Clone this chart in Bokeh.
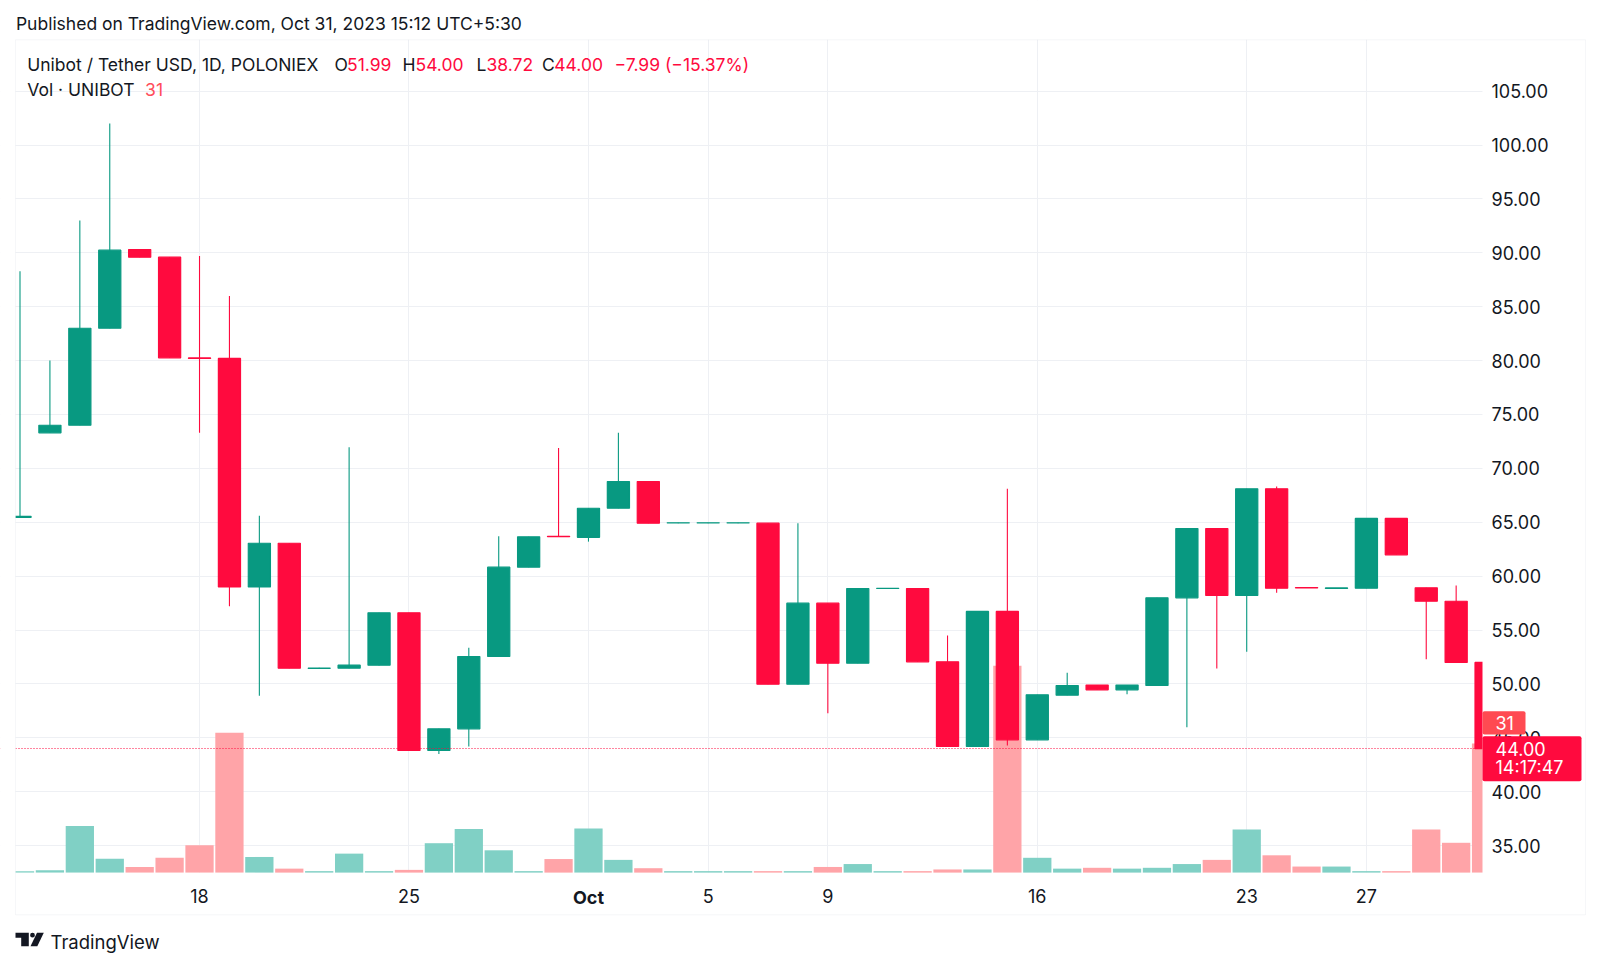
from bokeh.plotting import figure
from bokeh.models import (Range1d, FixedTicker, PrintfTickFormatter, Label,
                          BoxAnnotation, PolyAnnotation, ColumnDataSource)
from bokeh.embed import file_html
from bokeh.resources import INLINE

# ---------------- data (Unibot / USDT, 1D, Poloniex) ----------------
dates = ["Sep 12", "Sep 13", "Sep 14", "Sep 15", "Sep 16", "Sep 17", "Sep 18", "Sep 19",
         "Sep 20", "Sep 21", "Sep 22", "Sep 23", "Sep 24", "Sep 25", "Sep 26", "Sep 27",
         "Sep 28", "Sep 29", "Sep 30", "Oct 1", "Oct 2", "Oct 3", "Oct 4", "Oct 5",
         "Oct 6", "Oct 7", "Oct 8", "Oct 9", "Oct 10", "Oct 11", "Oct 12", "Oct 13",
         "Oct 14", "Oct 15", "Oct 16", "Oct 17", "Oct 18", "Oct 19", "Oct 20", "Oct 21",
         "Oct 22", "Oct 23", "Oct 24", "Oct 25", "Oct 26", "Oct 27", "Oct 28", "Oct 29",
         "Oct 30", "Oct 31"]
opens = [65.45, 73.30, 74.00, 83.00, 90.30, 89.60, 80.25, 80.20,
         59.00, 63.05, 51.44, 51.46, 51.74, 56.60, 43.82, 45.83,
         52.54, 60.83, 63.70, 63.60, 66.30, 68.78, 64.93, 64.93,
         64.93, 64.91, 49.97, 57.49, 51.92, 58.85, 58.85, 52.05,
         44.19, 56.72, 44.81, 48.95, 49.89, 49.45, 49.85, 57.99,
         64.42, 58.20, 68.10, 58.94, 58.86, 58.88, 65.35, 58.92,
         57.67, 51.99]
highs = [88.30, 80.00, 93.00, 102.00, 90.30, 89.60, 89.70, 86.00,
         65.60, 63.05, 51.50, 71.95, 56.60, 56.60, 45.83, 53.35,
         63.70, 63.65, 71.90, 66.30, 73.30, 68.78, 64.95, 64.95,
         64.95, 64.91, 64.91, 57.49, 58.85, 58.87, 58.85, 54.49,
         56.72, 68.10, 48.98, 51.03, 49.89, 49.89, 57.99, 64.42,
         64.42, 68.10, 68.32, 58.94, 58.90, 65.35, 65.35, 58.92,
         59.13, 54.00]
lows = [65.45, 73.30, 74.00, 83.00, 89.60, 80.26, 73.30, 57.20,
        48.90, 51.45, 51.40, 51.46, 51.70, 43.82, 43.50, 44.20,
        52.54, 60.83, 63.65, 63.20, 66.30, 64.91, 64.90, 64.90,
        64.90, 49.97, 49.97, 47.28, 51.92, 58.83, 52.05, 44.19,
        44.19, 44.28, 44.81, 48.95, 49.45, 49.04, 49.85, 45.98,
        51.43, 52.98, 58.45, 58.90, 58.86, 58.88, 61.98, 52.29,
        51.99, 38.72]
closes = [65.55, 74.00, 83.00, 90.25, 89.60, 80.26, 80.20, 59.00,
          63.05, 51.45, 51.46, 51.74, 56.60, 43.82, 45.83, 52.54,
          60.83, 63.65, 63.66, 66.30, 68.78, 64.91, 64.95, 64.95,
          64.95, 49.97, 57.49, 51.92, 58.85, 58.87, 52.05, 44.19,
          56.72, 44.81, 48.98, 49.85, 49.45, 49.89, 57.99, 64.42,
          58.20, 68.10, 58.88, 58.90, 58.90, 65.35, 61.98, 57.67,
          51.99, 44.00]
volumes = [0.4, 0.6, 11.2, 3.4, 1.4, 3.6, 6.6, 33.6,
           3.8, 1.0, 0.4, 4.6, 0.4, 0.7, 7.1, 10.5,
           5.4, 0.4, 3.3, 10.6, 3.1, 1.1, 0.4, 0.4,
           0.4, 0.4, 0.4, 1.4, 2.1, 0.4, 0.4, 0.8,
           0.8, 49.7, 3.6, 1.0, 1.2, 1.0, 1.2, 2.1,
           3.1, 10.4, 4.2, 1.5, 1.5, 0.4, 0.4, 10.4,
           7.2, 31.0]

price_ticks = [35, 40, 45, 50, 55, 60, 65, 70, 75, 80, 85, 90, 95, 100, 105]
date_ticks = [6, 13, 19, 23, 27, 34, 41, 45]
date_tick_labels = ["18", "25", "Oct", "5", "9", "16", "23", "27"]
last_price = 44.00
last_volume = 31
countdown = "14:17:47"

# ---------------- styles ----------------
GREEN = "#089981"
RED = "#ff0a3e"
VOL_GREEN = "#80d0c5"
VOL_RED = "#ffa4a8"
TAG_VOL = "#ff4a52"
TEXT = "#131722"
GRID = "#eef0f4"
BORDER = "#e0e3eb"
FONT = "Inter"
FS = "17.5px"
AXFS = "18px"

# ---------------- geometry (page pixels) ----------------
W, H = 1592, 958
DX = 29.92          # px per day
DAY0_PX = 19.5      # page x of first candle
DY = 10.776         # px per price unit
P105_PX = 90.7      # page y of price 105
VOL_PX = 4.168      # px per volume unit
PANE_L, PANE_R, PANE_T, PANE_B = 15, 1482, 39.3, 872.3
BOX_R, BOX_B = 1585, 914.3


def px_x(px):
    return (px - DAY0_PX) / DX


def px_y(py):
    return 105 - (py - P105_PX) / DY


idx = list(range(len(dates)))
up = [c >= o for o, c in zip(opens, closes)]
src = ColumnDataSource(dict(
    x=idx, date=dates, o=opens, h=highs, l=lows, c=closes,
    top=[max(o, c) for o, c in zip(opens, closes)],
    bottom=[min(o, c) for o, c in zip(opens, closes)],
    color=[GREEN if u else RED for u in up],
    vol=volumes,
    vcolor=[VOL_GREEN if u else VOL_RED for u in up],
))

p = figure(width=W, height=H,
           x_range=Range1d(px_x(0), px_x(W)), y_range=Range1d(px_y(H), px_y(0)),
           y_axis_location="right", output_backend="svg", toolbar_location=None,
           min_border=0, min_border_left=0, min_border_right=0,
           min_border_top=0, min_border_bottom=0,
           background_fill_color="white", border_fill_color="white",
           outline_line_color=None)
p.title.visible = False
p.extra_y_ranges = {"vol": Range1d(-(H - PANE_B) / VOL_PX, PANE_B / VOL_PX)}

# grid (restricted to the chart pane)
p.xgrid.ticker = FixedTicker(ticks=date_ticks)
p.ygrid.ticker = FixedTicker(ticks=price_ticks)
p.xgrid.bounds = (px_y(PANE_B), px_y(PANE_T))
p.ygrid.bounds = (px_x(PANE_L), px_x(PANE_R))
for g in (p.xgrid, p.ygrid):
    g.grid_line_color = GRID
    g.grid_line_width = 1

# axes, pinned to the pane edges
yax = p.yaxis[0]
yax.ticker = FixedTicker(ticks=price_ticks)
yax.formatter = PrintfTickFormatter(format="%.2f")
yax.fixed_location = px_x(PANE_R)
yax.major_label_standoff = 9
xax = p.xaxis[0]
xax.ticker = FixedTicker(ticks=date_ticks)
xax.major_label_overrides = {t: (lab if lab != "Oct" else "")
                             for t, lab in zip(date_ticks, date_tick_labels)}
xax.fixed_location = px_y(PANE_B)
xax.major_label_standoff = 16
for ax in (xax, yax):
    ax.axis_line_color = None
    ax.major_tick_line_color = None
    ax.minor_tick_line_color = None
    ax.major_tick_out = 0
    ax.major_tick_in = 0
    ax.major_label_text_font = FONT
    ax.major_label_text_font_size = AXFS
    ax.major_label_text_color = TEXT

# volume
p.vbar(x="x", top="vol", bottom=0, width=0.945, fill_color="vcolor", line_color=None,
       y_range_name="vol", source=src)
# wicks and bodies
p.segment(x0="x", y0="h", x1="x", y1="l", line_color="color", line_width=1.1, source=src)
p.vbar(x="x", top="top", bottom="bottom", width=0.74, fill_color="color",
       line_color="color", line_width=1.2, source=src)
# last price line
p.hspan(y=[last_price], line_color=RED, line_dash="1 2", line_width=1)

# white masks outside the pane (clip candles / grid / price line to the pane)
mx0, mx1 = px_x(-5), px_x(W + 5)
my0, my1 = px_y(H + 5), px_y(-5)
p.quad(left=[mx0, px_x(PANE_R), mx0, mx0],
       right=[px_x(PANE_L), mx1, mx1, mx1],
       bottom=[my0, my0, my0, px_y(PANE_T)],
       top=[my1, my1, px_y(PANE_B), my1],
       fill_color="white", line_color=None)

# outer border of the chart box
p.add_layout(BoxAnnotation(left=px_x(PANE_L), right=px_x(BOX_R), top=px_y(PANE_T),
                           bottom=px_y(BOX_B), fill_color=None, fill_alpha=0,
                           line_color=BORDER, line_width=1))


def lab(px, py, text, color=TEXT, size=FS, style="normal", align="left"):
    p.add_layout(Label(x=px_x(px), y=px_y(py), text=text, text_align=align,
                       text_baseline="middle", text_font=FONT, text_font_size=size,
                       text_font_style=style, text_color=color))


# bold month label on the time axis
oct_i = date_tick_labels.index("Oct")
p.add_layout(Label(x=date_ticks[oct_i], y=px_y(896.5), text="Oct", text_align="center",
                   text_baseline="middle", text_font=FONT, text_font_size=AXFS,
                   text_font_style="bold", text_color=TEXT))

# header
lab(15.4, 22.6, "Published on TradingView.com, Oct 31, 2023 15:12 UTC+5:30")
# legend
LEG_Y = 63.6
lab(26.7, LEG_Y, "Unibot / Tether USD, 1D, POLONIEX")
lab(334, LEG_Y, "O")
lab(346.5, LEG_Y, f"{opens[-1]:.2f}", RED)
lab(402, LEG_Y, "H")
lab(415, LEG_Y, f"{highs[-1]:.2f}", RED)
lab(476, LEG_Y, "L")
lab(486, LEG_Y, f"{lows[-1]:.2f}", RED)
lab(541.5, LEG_Y, "C")
lab(553.8, LEG_Y, f"{closes[-1]:.2f}", RED)
chg = closes[-1] - opens[-1]
pct = chg / opens[-1] * 100
lab(614, LEG_Y, f"\u2212{abs(chg):.2f} (\u2212{abs(pct):.2f}%)", RED)
lab(26.7, 89.2, "Vol \u00b7 UNIBOT")
lab(144.6, 89.2, f"{last_volume}", "#ff4d5b")

# price-scale tags
p.add_layout(BoxAnnotation(left=px_x(PANE_R), right=px_x(1525), top=px_y(710.7),
                           bottom=px_y(734), fill_color=TAG_VOL, fill_alpha=1,
                           line_color=None, border_radius=2))
lab(1495, 722.5, f"{last_volume}", "#ffffff", AXFS)
p.add_layout(BoxAnnotation(left=px_x(PANE_R), right=px_x(1581), top=px_y(735.7),
                           bottom=px_y(780.7), fill_color=RED, fill_alpha=1,
                           line_color=None, border_radius=2))
lab(1495, 748, f"{last_price:.2f}", "#ffffff", AXFS)
lab(1495, 767, countdown, "#ffffff", AXFS)

# footer logo + wordmark
logo_x = [15, 28.3, 28.3, 20.7, 20.7, 15]
logo_y = [932.3, 932.3, 945.7, 945.7, 937.3, 937.3]
p.add_layout(PolyAnnotation(xs=[px_x(v) for v in logo_x], ys=[px_y(v) for v in logo_y],
                            fill_color=TEXT, fill_alpha=1, line_color=None))
slash_x = [36.5, 43.3, 36.8, 30.0]
slash_y = [932.3, 932.3, 945.7, 945.7]
p.add_layout(PolyAnnotation(xs=[px_x(v) for v in slash_x], ys=[px_y(v) for v in slash_y],
                            fill_color=TEXT, fill_alpha=1, line_color=None))
p.add_layout(BoxAnnotation(left=px_x(29.6), right=px_x(34.4), top=px_y(932.3),
                           bottom=px_y(937.1), fill_color=TEXT, fill_alpha=1,
                           line_color=None, border_radius=3))
lab(50, 941.7, "TradingView", TEXT, "18.5px")

open("out.html", "w").write(file_html(p, INLINE))
